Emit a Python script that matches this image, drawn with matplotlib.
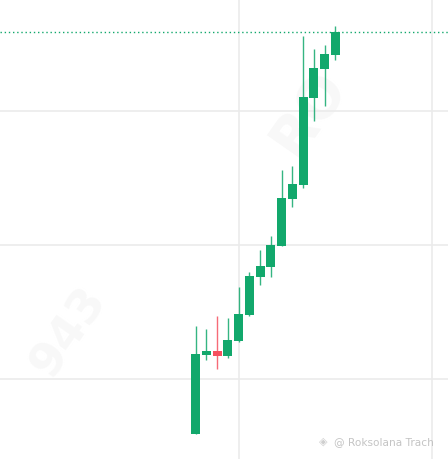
import matplotlib
matplotlib.use("Agg")
import matplotlib.pyplot as plt
from matplotlib.patches import Rectangle

# Candle data (index positions, OHLC)
idx = list(range(14))
opens  = [79.6, 109.1, 110.6, 108.7, 114.3, 124.0, 138.2, 142.0, 149.8, 167.2, 172.6, 205.1, 215.9, 221.1]
closes = [109.3, 110.6, 108.7, 114.6, 124.3, 138.5, 142.2, 150.1, 167.6, 172.8, 205.3, 216.2, 221.4, 229.6]
highs  = [119.8, 118.7, 123.5, 122.8, 134.4, 139.9, 148.2, 153.4, 178.1, 179.6, 228.1, 223.3, 224.8, 231.9]
lows   = [79.5, 107.2, 103.7, 107.8, 114.0, 123.6, 135.1, 138.2, 149.7, 164.4, 171.5, 196.5, 202.1, 219.3]
last_price = closes[-1]
ygrid = [100, 150, 200]
xgrid = [4, 22]

UP = "#12a86c"
DOWN = "#f5515f"

fig = plt.figure(figsize=(4.48, 4.60), dpi=100)
ax = fig.add_axes([0, 0, 1, 1])
ax.set_facecolor("white")

# faint background watermark
ax.text(-11.8, 118, "943", fontsize=34, color="#f8f8f8", rotation=55,
        ha="center", va="center", fontweight="bold", zorder=0)
ax.text(10.5, 200, "RO", fontsize=40, color="#f8f8f8", rotation=55,
        ha="center", va="center", fontweight="bold", zorder=0)

for y in ygrid:
    ax.axhline(y, color="#ebebeb", lw=1.2, zorder=1)
for x in xgrid:
    ax.axvline(x, color="#ebebeb", lw=1.2, zorder=1)

bw = 0.84
for i, o, c, h, l in zip(idx, opens, closes, highs, lows):
    col = UP if c >= o else DOWN
    ax.plot([i, i], [l, h], color=col, lw=1.0, alpha=0.85, zorder=3, solid_capstyle="butt")
    ax.add_patch(Rectangle((i - bw / 2, min(o, c)), bw, max(abs(c - o), 0.3),
                           facecolor=col, edgecolor="none", zorder=4))

ax.axhline(last_price, color=UP, lw=1.0, linestyle=(0, (1, 2)), zorder=2)

ax.set_xlim(-18.19, 23.46)
ax.set_ylim(100 - 80 * 0.37355, 100 + 380 * 0.37355)
ax.set_xticks([])
ax.set_yticks([])
for s in ax.spines.values():
    s.set_visible(False)

fig.text(0.712, 0.040, "\u25c8", fontsize=8, color="#cfcfcf", ha="left", va="center")
fig.text(0.745, 0.040, "@ Roksolana Trach", fontsize=7.6, color="#c4c4c4",
         ha="left", va="center")

fig.savefig("out.png", dpi=100)
